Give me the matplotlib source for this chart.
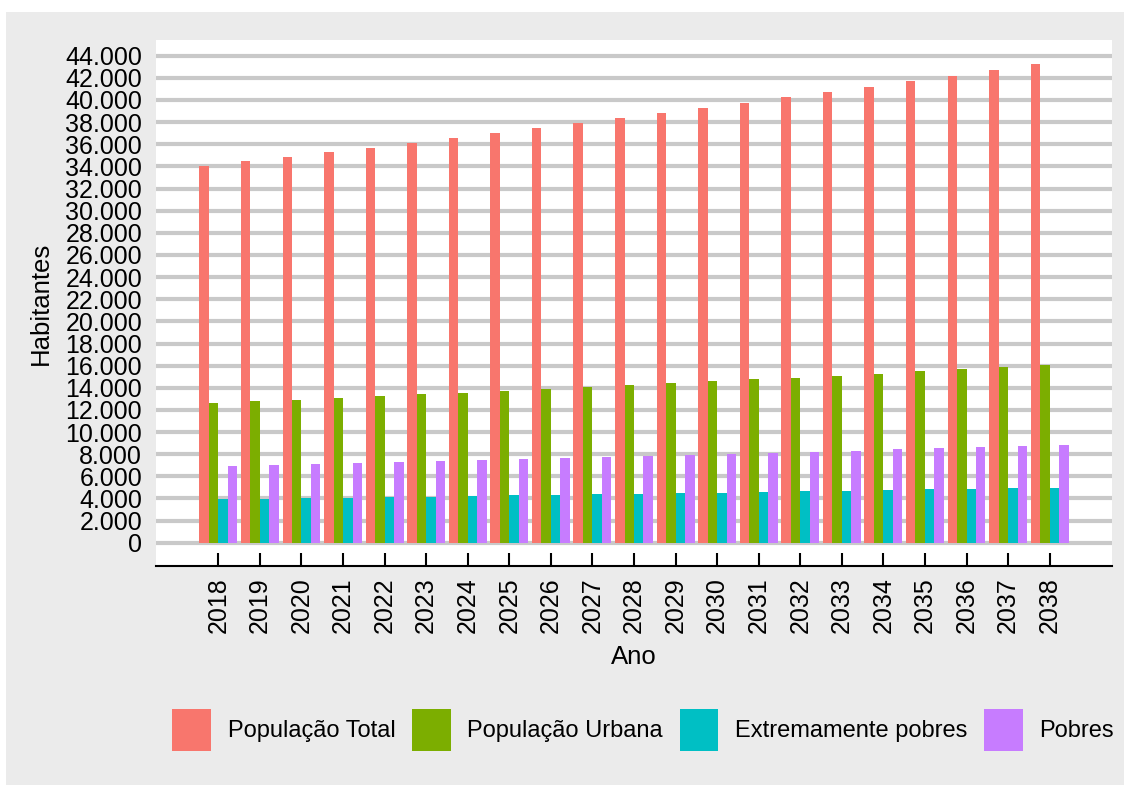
# Population projections 2018-2038, grouped bars per year
import numpy as np
import matplotlib.pyplot as plt
from matplotlib.patches import Rectangle, Patch
from matplotlib.ticker import FuncFormatter

plt.rcParams["font.family"] = ["Liberation Sans", "DejaVu Sans"]

# Data
anos = list(range(2018, 2039))
pop_total = [34040, 34490, 34850, 35300, 35660, 36110, 36560, 37010, 37470, 37920, 38370,
             38830, 39280, 39730, 40270, 40720, 41170, 41710, 42160, 42700, 43240]
pop_urbana = [12630, 12810, 12900, 13080, 13260, 13440, 13530, 13710, 13890, 14080, 14260,
              14440, 14620, 14800, 14890, 15070, 15250, 15520, 15700, 15880, 16060]
extremamente_pobres = [3960, 3960, 4050, 4050, 4140, 4140, 4230, 4320, 4320, 4410, 4410,
                       4500, 4500, 4590, 4680, 4680, 4770, 4860, 4860, 4950, 4950]
pobres = [6940, 7030, 7120, 7210, 7300, 7390, 7480, 7570, 7660, 7750, 7840,
          7930, 8020, 8110, 8200, 8290, 8470, 8560, 8650, 8740, 8830]
y_ticks = list(range(0, 44001, 2000))

series = [pop_total, pop_urbana, extremamente_pobres, pobres]
nomes = ["População Total", "População Urbana", "Extremamente pobres", "Pobres"]
cores = ["#F8766D", "#7CAE00", "#00BFC4", "#C77CFF"]

W, H = 1124, 785
fig = plt.figure(figsize=(W / 100, H / 100), dpi=100, facecolor="white")
# grey plot background (ggplot style)
fig.patches.append(Rectangle((6 / W, 0), 1 - 6 / W, 1 - 12 / H, transform=fig.transFigure,
                             facecolor="#EBEBEB", edgecolor="none", zorder=-10))

ax = fig.add_axes([156 / W, 1 - 566 / H, (1112 - 156) / W, (566 - 40) / H])
ax.set_facecolor("white")

x = np.arange(len(anos))
largura = 0.228
for i, (vals, nome, cor) in enumerate(zip(series, nomes, cores)):
    ax.bar(x + (i - 1.5) * largura, vals, width=largura, color=cor, label=nome, zorder=3)

# Axes and grid
ax.set_xlim(-1.5, len(anos) + 0.5)
ax.set_ylim(-2100, 45420)
ax.set_yticks(y_ticks)
ax.yaxis.set_major_formatter(FuncFormatter(lambda v, p: f"{int(v):,}".replace(",", ".")))
ax.grid(axis="y", color="#C9C9C9", linewidth=3.0, zorder=1)
ax.set_axisbelow(True)

for s in ["top", "right", "left"]:
    ax.spines[s].set_visible(False)
ax.spines["bottom"].set_linewidth(1.5)
ax.spines["bottom"].set_color("black")

ax.set_xticks(x)
ax.set_xticklabels([str(a) for a in anos], rotation=90, fontsize=18)
ax.tick_params(axis="x", direction="in", length=9.5, width=1.5, pad=8)
ax.tick_params(axis="y", length=0, pad=10, labelsize=18)

ax.set_xlabel("Ano", fontsize=18.5, labelpad=9)
ax.set_ylabel("Habitantes", fontsize=18.5, labelpad=9)

# Legend at the bottom
handles = [Patch(facecolor=c, edgecolor="none") for c in cores]
fig.legend(handles, nomes, loc="center right", bbox_to_anchor=(1114 / W, 1 - 730 / H),
           ncol=4, frameon=False, fontsize=17, handlelength=1.65, handleheight=2.3,
           handletextpad=0.7, columnspacing=0.7, borderpad=0, borderaxespad=0)

fig.savefig("out.png", dpi=100, facecolor=fig.get_facecolor())
